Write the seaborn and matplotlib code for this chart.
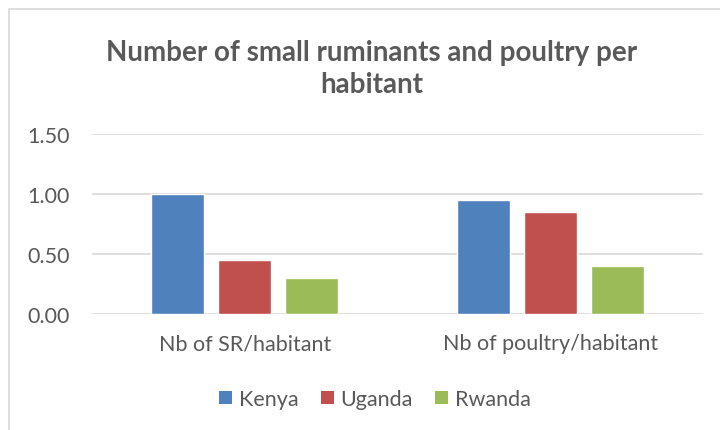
import matplotlib
matplotlib.use("Agg")
import matplotlib.pyplot as plt
import seaborn as sns
import pandas as pd
from matplotlib.patches import Rectangle, Patch

categories = ["Nb of SR/habitant", "Nb of poultry/habitant"]
countries = ["Kenya", "Uganda", "Rwanda"]
kenya = [1.00, 0.95]
uganda = [0.45, 0.85]
rwanda = [0.30, 0.40]
yticks = [0.0, 0.5, 1.0, 1.5]
colors = ["#4F81BD", "#C0504D", "#9BBB59"]

rows = []
for country, vals in zip(countries, [kenya, uganda, rwanda]):
    for cat, v in zip(categories, vals):
        rows.append({"category": cat, "country": country, "value": v})
df = pd.DataFrame(rows)

sns.set_style("white")
plt.rcParams["font.family"] = ["Lato", "DejaVu Sans"]
text_color = "#595959"
grid_color = "#D9D9D9"

fig = plt.figure(figsize=(7.2, 4.31), dpi=100)
ax = fig.add_axes([92/720, 1-315/431, (703-92)/720, (315-135)/431])
sns.barplot(data=df, x="category", y="value", hue="country", order=categories,
            hue_order=countries, palette=colors, width=0.658, gap=0.21,
            ax=ax, legend=False, saturation=1, zorder=3)
ax.set_ylim(0, 1.5)
ax.set_xlim(-0.5, 1.5)
ax.set_yticks(yticks)
ax.set_yticklabels([f"{t:.2f}" for t in yticks])
ax.grid(axis="y", color=grid_color, linewidth=1.2, zorder=0)
ax.set_axisbelow(True)
for s in ax.spines.values():
    s.set_visible(False)
ax.tick_params(axis="both", length=0, labelsize=15.5, labelcolor=text_color)
ax.tick_params(axis="y", pad=16)
ax.tick_params(axis="x", pad=14)
ax.set_xlabel("")
ax.set_ylabel("")

fig.text(372/720, 1-69/431, "Number of small ruminants and poultry per\nhabitant",
         ha="center", va="center", fontsize=20, fontweight="bold",
         color=text_color, linespacing=1.3)

handles = [Patch(facecolor=c, edgecolor="none") for c in colors]
fig.legend(handles, countries, loc="center", bbox_to_anchor=(375/720, 1-400/431),
           ncol=3, frameon=False, fontsize=15.5, labelcolor=text_color,
           handlelength=0.6, handleheight=0.6, handletextpad=0.3, columnspacing=1.05)

fig.patches.append(Rectangle((9/720, -0.1), 1.2, (431-10)/431 + 0.1,
                             transform=fig.transFigure, fill=False,
                             edgecolor=grid_color, linewidth=1.2))

fig.savefig("out.png", dpi=100)
